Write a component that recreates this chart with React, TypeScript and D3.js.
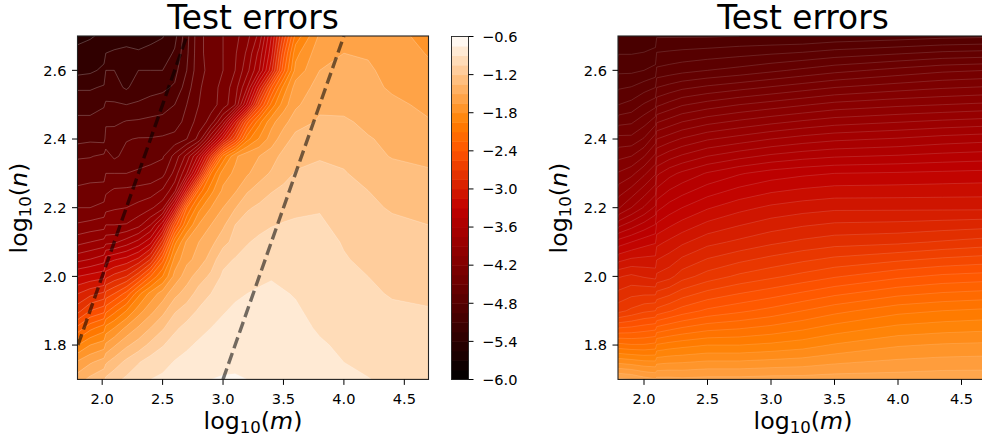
import React from "react";
import * as d3 from "d3";

const leftN = [2.7, 2.65, 2.6, 2.55, 2.5, 2.45, 2.4, 2.35, 2.3, 2.25, 2.2, 2.15, 2.1, 2.05, 2.0, 1.95, 1.9, 1.85, 1.8, 1.75, 1.7];
const leftM = [1.8, 1.9, 2.015, 2.03, 2.1, 2.2, 2.3, 2.4, 2.5, 2.6, 2.7, 2.8, 2.9, 3.0, 3.1, 3.2, 3.3, 3.4, 3.5, 3.6, 3.8, 4.0, 4.2, 4.4, 4.7];
const leftErrors = [
  [-5.42, -5.41, -5.38, -5.34, -5.33, -5.3, -5.29, -5.28, -5.26, -5.15, -4.85, -4.55, -4.42, -4.35, -4.25, -4.1, -3.85, -3.3, -2.65, -2.05, -1.62, -1.58, -1.56, -1.58, -1.72],
  [-5.38, -5.36, -5.3, -5.25, -5.23, -5.22, -5.24, -5.22, -5.18, -5.08, -4.83, -4.55, -4.42, -4.35, -4.22, -4.02, -3.7, -3.2, -2.45, -1.85, -1.55, -1.5, -1.52, -1.57, -1.66],
  [-5.3, -5.28, -5.22, -5.1, -5.1, -5.12, -5.1, -5.1, -5.1, -5.0, -4.8, -4.55, -4.45, -4.35, -4.2, -3.95, -3.6, -3.05, -2.3, -1.75, -1.5, -1.46, -1.47, -1.57, -1.62],
  [-5.12, -5.12, -5.08, -5.03, -5.05, -5.12, -5.03, -5.0, -4.98, -4.93, -4.72, -4.52, -4.42, -4.3, -4.12, -3.75, -3.1, -2.4, -1.9, -1.58, -1.45, -1.43, -1.46, -1.52, -1.58],
  [-5.0, -5.0, -4.96, -4.93, -4.93, -4.95, -4.93, -4.9, -4.88, -4.8, -4.65, -4.5, -4.4, -4.3, -4.05, -3.4, -2.6, -2.05, -1.72, -1.53, -1.38, -1.39, -1.42, -1.47, -1.53],
  [-4.92, -4.92, -4.9, -4.82, -4.83, -4.79, -4.78, -4.76, -4.74, -4.72, -4.6, -4.43, -4.3, -3.85, -3.15, -2.45, -2.0, -1.7, -1.55, -1.42, -1.33, -1.33, -1.38, -1.43, -1.49],
  [-4.85, -4.83, -4.85, -4.75, -4.72, -4.66, -4.64, -4.64, -4.63, -4.6, -4.5, -4.3, -3.75, -3.15, -2.6, -2.0, -1.78, -1.58, -1.42, -1.3, -1.27, -1.28, -1.34, -1.38, -1.44],
  [-4.67, -4.66, -4.62, -4.58, -4.68, -4.6, -4.56, -4.55, -4.52, -4.3, -4.0, -3.55, -2.85, -2.05, -1.68, -1.55, -1.5, -1.42, -1.3, -1.24, -1.21, -1.23, -1.3, -1.36, -1.39],
  [-4.55, -4.55, -4.55, -4.5, -4.5, -4.5, -4.48, -4.45, -4.4, -4.15, -3.75, -3.05, -2.1, -1.72, -1.62, -1.52, -1.42, -1.33, -1.25, -1.19, -1.17, -1.19, -1.25, -1.29, -1.33],
  [-4.48, -4.46, -4.45, -4.38, -4.33, -4.32, -4.3, -4.28, -4.18, -3.95, -3.1, -2.2, -1.85, -1.62, -1.52, -1.37, -1.28, -1.21, -1.17, -1.13, -1.11, -1.16, -1.2, -1.25, -1.28],
  [-4.35, -4.35, -4.3, -4.25, -4.22, -4.2, -4.15, -4.08, -3.95, -3.25, -2.25, -1.85, -1.65, -1.5, -1.36, -1.22, -1.17, -1.13, -1.1, -1.08, -1.06, -1.12, -1.18, -1.21, -1.23],
  [-4.18, -4.15, -4.12, -4.05, -4.05, -4.04, -3.95, -3.75, -3.35, -2.5, -1.95, -1.64, -1.5, -1.38, -1.2, -1.13, -1.09, -1.06, -1.04, -1.03, -1.03, -1.09, -1.15, -1.18, -1.2],
  [-3.95, -3.9, -3.85, -3.8, -3.78, -3.68, -3.55, -3.35, -2.8, -2.0, -1.62, -1.5, -1.4, -1.25, -1.15, -1.06, -1.02, -0.98, -0.98, -0.99, -1.0, -1.06, -1.12, -1.14, -1.16],
  [-3.65, -3.6, -3.52, -3.38, -3.32, -3.25, -3.12, -2.85, -2.3, -1.75, -1.54, -1.45, -1.28, -1.1, -1.04, -1.0, -0.97, -0.95, -0.95, -0.97, -0.99, -1.04, -1.08, -1.12, -1.14],
  [-3.3, -3.25, -3.2, -3.05, -2.95, -2.85, -2.6, -2.25, -1.95, -1.6, -1.42, -1.27, -1.17, -1.02, -0.98, -0.95, -0.93, -0.91, -0.93, -0.95, -0.98, -1.02, -1.05, -1.09, -1.12],
  [-3.0, -2.9, -2.82, -2.65, -2.55, -2.35, -2.0, -1.75, -1.58, -1.4, -1.28, -1.14, -1.05, -0.95, -0.92, -0.9, -0.88, -0.87, -0.89, -0.91, -0.97, -1.0, -1.03, -1.06, -1.08],
  [-2.75, -2.55, -2.45, -2.3, -2.15, -1.95, -1.72, -1.55, -1.4, -1.22, -1.13, -1.03, -0.97, -0.91, -0.88, -0.86, -0.85, -0.85, -0.86, -0.88, -0.95, -0.98, -1.0, -1.03, -1.04],
  [-2.35, -2.15, -2.02, -1.9, -1.8, -1.62, -1.48, -1.35, -1.22, -1.08, -1.0, -0.94, -0.9, -0.87, -0.84, -0.82, -0.81, -0.81, -0.83, -0.85, -0.92, -0.95, -0.98, -1.0, -1.02],
  [-1.95, -1.8, -1.72, -1.62, -1.52, -1.38, -1.28, -1.16, -1.06, -0.98, -0.92, -0.88, -0.85, -0.82, -0.8, -0.78, -0.77, -0.77, -0.8, -0.83, -0.88, -0.93, -0.96, -0.98, -1.0],
  [-1.62, -1.52, -1.43, -1.37, -1.28, -1.16, -1.06, -0.98, -0.95, -0.89, -0.86, -0.82, -0.8, -0.78, -0.77, -0.76, -0.77, -0.77, -0.8, -0.82, -0.86, -0.9, -0.93, -0.95, -0.98],
  [-1.42, -1.31, -1.22, -1.17, -1.1, -1.02, -0.96, -0.9, -0.87, -0.84, -0.81, -0.78, -0.75, -0.74, -0.74, -0.75, -0.76, -0.77, -0.79, -0.8, -0.84, -0.87, -0.895, -0.93, -0.96],
];

const rightN = [2.7, 2.6, 2.5, 2.4, 2.3, 2.2, 2.1, 2.0, 1.9, 1.8, 1.7];
const rightM = [1.8, 1.9, 2.0, 2.09, 2.1, 2.2, 2.3, 2.5, 2.75, 3.0, 3.25, 3.5, 4.0, 4.35, 4.7];
const rightErrors = [
  [-5.0, -5.0, -5.0, -4.98, -4.93, -4.93, -4.93, -4.93, -4.92, -4.92, -4.92, -4.9, -4.88, -4.86, -4.85],
  [-4.85, -4.85, -4.83, -4.8, -4.72, -4.7, -4.68, -4.65, -4.62, -4.58, -4.54, -4.5, -4.44, -4.4, -4.38],
  [-4.65, -4.62, -4.55, -4.5, -4.4, -4.35, -4.3, -4.25, -4.2, -4.16, -4.12, -4.08, -4.04, -4.02, -4.0],
  [-4.35, -4.35, -4.28, -4.15, -4.02, -3.97, -3.92, -3.85, -3.8, -3.75, -3.71, -3.68, -3.65, -3.62, -3.6],
  [-4.1, -4.05, -3.95, -3.85, -3.68, -3.6, -3.55, -3.47, -3.4, -3.35, -3.32, -3.3, -3.29, -3.28, -3.27],
  [-3.85, -3.75, -3.65, -3.55, -3.42, -3.35, -3.3, -3.22, -3.15, -3.1, -3.07, -3.05, -3.05, -3.05, -3.05],
  [-3.35, -3.3, -3.25, -3.22, -3.15, -3.1, -3.05, -2.97, -2.92, -2.87, -2.83, -2.8, -2.78, -2.75, -2.72],
  [-2.95, -2.92, -2.95, -2.97, -2.92, -2.88, -2.8, -2.72, -2.65, -2.6, -2.55, -2.5, -2.42, -2.38, -2.36],
  [-2.7, -2.65, -2.6, -2.58, -2.55, -2.5, -2.45, -2.38, -2.33, -2.28, -2.22, -2.16, -2.07, -2.04, -2.02],
  [-2.1, -2.12, -2.12, -2.1, -2.03, -2.0, -1.98, -1.95, -1.95, -1.93, -1.9, -1.85, -1.78, -1.76, -1.75],
  [-1.48, -1.5, -1.55, -1.58, -1.56, -1.56, -1.57, -1.56, -1.56, -1.55, -1.55, -1.54, -1.54, -1.53, -1.53],
];

const mTicks = [2.0, 2.5, 3.0, 3.5, 4.0, 4.5];
const nTicks = [1.8, 2.0, 2.2, 2.4, 2.6];
const barTicks = [-0.6, -1.2, -1.8, -2.4, -3.0, -3.6, -4.2, -4.8, -5.4, -6.0];
const diagonalLow = [[1.8, 1.8], [2.7, 2.7]];
const diagonalHigh = [[3.0, 1.7], [4.0, 2.7]];
const levelMin = -6;
const levelMax = -0.6;
const leftStep = 0.15;
const rightStep = 0.09;

const FONT = "'DejaVu Sans', sans-serif";
const heat = (v: number) => {
  const x = (v - levelMin) / (levelMax - levelMin);
  const c = (t: number) => Math.round(255 * Math.max(0, Math.min(1, t)));
  return `rgb(${c(1.5 * x)},${c(2 * x - 1)},${c(4 * x - 3)})`;
};
const fmt = (v: number) => v.toFixed(1).replace("-", "\u2212");

function MathLabel({ x, y, letter, rotate }: { x: number; y: number; letter: string; rotate?: boolean }) {
  return (
    <text
      transform={`translate(${x},${y})${rotate ? " rotate(-90)" : ""}`}
      textAnchor="middle"
      fontFamily={FONT}
      fontSize={23.7}
      fill="#000"
    >
      log
      <tspan fontSize={16.6} dy={3.6}>10</tspan>
      <tspan dy={-3.6}>(</tspan>
      <tspan fontStyle="italic">{letter}</tspan>
      )
    </text>
  );
}

function Panel({
  id, left, width, mDomain, mRange, mNodes, nNodes, grid, step, lineAlpha, yLabelX, titleX, xLabelX, dashed,
}: {
  id: string; left: number; width: number; mDomain: number[]; mRange: number[]; mNodes: number[]; nNodes: number[];
  grid: number[][]; step: number; lineAlpha: number; yLabelX: number; titleX: number; xLabelX: number; dashed: boolean;
}) {
  const top = 36;
  const bottom = 379.4;
  const xScale = d3.scaleLinear().domain(mDomain).range(mRange);
  const yScale = d3.scaleLinear().domain([1.7, 2.7]).range([bottom, top]);
  const nx = mNodes.length;
  const ny = nNodes.length;
  const gx = d3.scaleLinear().domain(mNodes.map((_, i) => i + 0.5)).range(mNodes.map((m) => xScale(m)));
  const gy = d3.scaleLinear().domain(nNodes.map((_, i) => i + 0.5)).range(nNodes.map((n) => yScale(n)));
  const values = grid.flat();
  const contours = d3.contours().size([nx, ny]);
  const path = d3.geoPath(
    d3.geoTransform({
      point(x: number, y: number) {
        (this as any).stream.point(gx(x), gy(y));
      },
    })
  );
  const count = Math.round((levelMax - levelMin) / step);
  const levels = d3.range(count).map((i) => levelMin + i * step);
  const lo = d3.min(values) as number;
  const hi = d3.max(values) as number;
  const used = levels.filter((t) => t + step > lo && t <= hi);
  const clip = `clip-${id}`;
  const lineFn = d3.line<number[]>().x((d) => xScale(d[0])).y((d) => yScale(d[1]));
  return (
    <g>
      <defs>
        <clipPath id={clip}>
          <rect x={left} y={top} width={width} height={bottom - top} />
        </clipPath>
      </defs>
      <g clipPath={`url(#${clip})`}>
        <rect x={left} y={top} width={width} height={bottom - top} fill={heat(used[0] + step / 2)} />
        {used.map((t) => (
          <path
            key={t}
            d={path(contours.contour(values, t) as any) || ""}
            fill={heat(t + step / 2)}
            fillRule="evenodd"
            stroke={`rgba(255,255,255,${lineAlpha})`}
            strokeWidth={0.7}
          />
        ))}
        {dashed &&
          [diagonalLow, diagonalHigh].map((pts, i) => (
            <path key={i} d={lineFn(pts as any) || ""} fill="none" stroke="#000" strokeOpacity={0.55} strokeWidth={3.4} strokeDasharray="11.5 5" />
          ))}
      </g>
      <rect x={left} y={top} width={width} height={bottom - top} fill="none" stroke="#222" strokeWidth={1.1} />
      {mTicks.map((t) => (
        <g key={t}>
          <line x1={xScale(t)} x2={xScale(t)} y1={bottom} y2={bottom + 5.5} stroke="#000" strokeWidth={1} />
          <text x={xScale(t)} y={403.5} textAnchor="middle" fontFamily={FONT} fontSize={14.6} fill="#000">{t.toFixed(1)}</text>
        </g>
      ))}
      {nTicks.map((t) => (
        <g key={t}>
          <line x1={left - 5.5} x2={left} y1={yScale(t)} y2={yScale(t)} stroke="#000" strokeWidth={1} />
          <text x={left - 11} y={yScale(t) + 5.3} textAnchor="end" fontFamily={FONT} fontSize={14.6} fill="#000">{t.toFixed(1)}</text>
        </g>
      ))}
      <text x={titleX} y={28.5} textAnchor="middle" fontFamily={FONT} fontSize={32.8} fill="#000">Test errors</text>
      <MathLabel x={xLabelX} y={429} letter="m" />
      <MathLabel x={yLabelX} y={208} letter="n" rotate />
    </g>
  );
}

function ColorBar() {
  const top = 36.5;
  const bottom = 379.5;
  const x = 451.5;
  const w = 17;
  const scale = d3.scaleLinear().domain([levelMin, levelMax]).range([bottom, top]);
  const levels = d3.range(36).map((i) => levelMin + i * leftStep);
  return (
    <g>
      {levels.map((t) => (
        <rect key={t} x={x} y={scale(t + leftStep)} width={w} height={scale(t) - scale(t + leftStep) + 0.5} fill={heat(t + leftStep / 2)} />
      ))}
      <rect x={x} y={top} width={w} height={bottom - top} fill="none" stroke="#222" strokeWidth={0.9} />
      {barTicks.map((t) => (
        <g key={t}>
          <line x1={x + w} x2={x + w + 5} y1={scale(t)} y2={scale(t)} stroke="#000" strokeWidth={1} />
          <text x={482} y={scale(t) + 5.3} fontFamily={FONT} fontSize={14.6} fill="#000">{fmt(t)}</text>
        </g>
      ))}
    </g>
  );
}

export default function App() {
  return (
    <svg width={982} height={438} style={{ position: "fixed", left: 0, top: 0, background: "#fff" }}>
      <Panel id="a" left={77.5} width={351} mDomain={[1.8, 4.7]} mRange={[78, 428.5]} mNodes={leftM} nNodes={leftN} grid={leftErrors} step={leftStep} lineAlpha={0.32} yLabelX={27} titleX={253} xLabelX={253} dashed />
      <Panel id="b" left={618} width={368} mDomain={[2.0, 4.5]} mRange={[644, 961.5]} mNodes={rightM} nNodes={rightN} grid={rightErrors} step={rightStep} lineAlpha={0.18} yLabelX={567} titleX={803} xLabelX={803} dashed={false} />
      <ColorBar />
    </svg>
  );
}
